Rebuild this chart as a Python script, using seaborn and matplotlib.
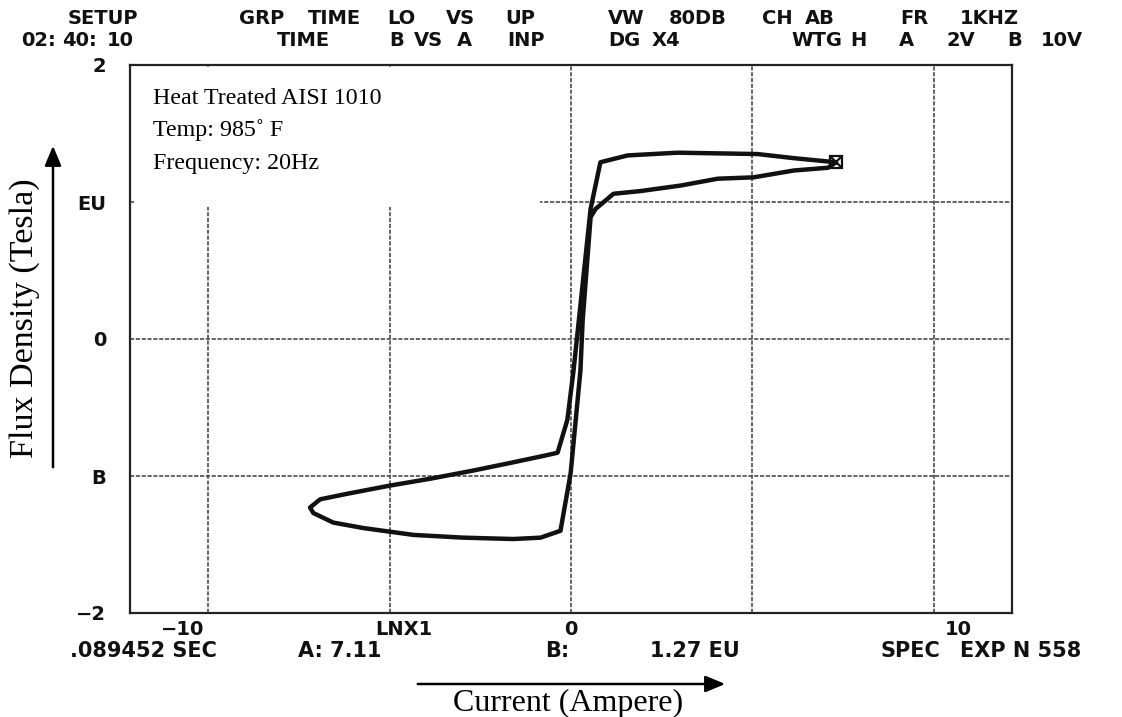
import numpy as np
import pandas as pd
import matplotlib
matplotlib.use("Agg")
import matplotlib.pyplot as plt
import seaborn as sns

# ---------------- data ----------------
# descending branch: from positive tip to negative tip
current_desc = [7.30, 6.14, 5.14, 2.94, 1.56, 0.81, 0.54, 0.07, -0.10, -0.37,
                -0.70, -1.59, -2.69, -3.88, -4.99, -6.17, -6.91, -7.19]
flux_desc = [1.29, 1.32, 1.35, 1.36, 1.34, 1.29, 0.95, -0.23, -0.59, -0.83,
             -0.85, -0.90, -0.96, -1.02, -1.07, -1.13, -1.17, -1.23]
# ascending branch: from negative tip back to positive tip
current_asc = [-7.19, -7.10, -6.55, -5.72, -4.34, -2.97, -1.59, -0.84, -0.29,
               -0.01, 0.26, 0.32, 0.54, 0.68, 1.17, 1.92, 3.02, 4.04, 5.03,
               6.14, 7.08, 7.30]
flux_asc = [-1.23, -1.27, -1.34, -1.38, -1.43, -1.45, -1.46, -1.45, -1.40,
            -0.98, -0.23, 0.13, 0.89, 0.95, 1.06, 1.08, 1.12, 1.17, 1.18,
            1.23, 1.25, 1.29]
cursor_a = [7.30]
cursor_b = [1.29]

y_ticks = [-2, -1, 0, 1, 2]
y_tick_labels = ["\u22122", "B", "0", "EU", "2"]
x_grid = [-10, -5, 0, 5, 10]
x_label_pos = [-10.7, -4.6, 0.0, 10.66]
x_label_txt = ["\u221210", "LNX1", "0", "10"]

header_row1 = [("SETUP", 68), ("GRP", 239), ("TIME", 308), ("LO", 387), ("VS", 446),
               ("UP", 505), ("VW", 608), ("80DB", 669), ("CH", 762), ("AB", 805),
               ("FR", 900), ("1KHZ", 960)]
header_row2 = [("02:", 21), ("40:", 62), ("10", 107), ("TIME", 277), ("B", 389),
               ("VS", 414), ("A", 457), ("INP", 507), ("DG", 608), ("X4", 652),
               ("WTG", 791), ("H", 850), ("A", 899), ("2V", 947), ("B", 1007),
               ("10V", 1041)]
footer_row = [(".089452 SEC", 70), ("A: 7.11", 298), ("B:", 545), ("1.27 EU", 650),
              ("SPEC", 880), ("EXP N 558", 960)]
note_lines = ["Heat Treated AISI 1010", "Temp: 985\u02da F", "Frequency: 20Hz"]

# ---------------- figure ----------------
W, H = 1122, 717
sns.set_theme(style="white")
plt.rcParams["font.family"] = ["DejaVu Sans"]
fig = plt.figure(figsize=(W / 100, H / 100), dpi=100)
fig.patch.set_facecolor("white")

def fx(px):
    return px / W

def fy(py):
    return 1 - py / H

ax = fig.add_axes([fx(130), fy(613), fx(1012) - fx(130), fy(65) - fy(613)])
ax.set_facecolor("white")

df = pd.DataFrame({
    "current": current_desc + current_asc,
    "flux": flux_desc + flux_asc,
})
sns.lineplot(data=df, x="current", y="flux", sort=False, estimator=None,
             color="#111111", linewidth=3.2, ax=ax, zorder=3)
ax.plot(cursor_a, cursor_b, marker="s", markersize=9, markerfacecolor="none",
        markeredgecolor="#111111", markeredgewidth=1.6, zorder=4)
ax.plot(cursor_a, cursor_b, marker="x", markersize=9, color="#111111",
        markeredgewidth=1.6, zorder=4)

ax.set_xlim(-12.15, 12.15)
ax.set_ylim(-2, 2)

# grid lines and tick labels
ax.xaxis.remove_overlapping_locs = False
ax.set_xticks(x_grid)
ax.set_xticklabels([])
ax.set_xticks(x_label_pos, minor=True)
ax.set_xticklabels(x_label_txt, minor=True)
ax.set_yticks(y_ticks)
ax.set_yticklabels(y_tick_labels)
ax.grid(True, which="major", color="#4a4a4a", linestyle=(0, (2.5, 1)), linewidth=1.2)
ax.tick_params(axis="x", which="major", length=0)
ax.tick_params(axis="x", which="minor", length=0, pad=5, labelsize=14)
ax.tick_params(axis="y", which="major", length=0, pad=17, labelsize=14)
for lab in ax.get_yticklabels() + ax.get_xticklabels(minor=True):
    lab.set_fontweight("bold")
    lab.set_color("#111111")
for s in ax.spines.values():
    s.set_visible(True)
    s.set_color("#222222")
    s.set_linewidth(1.6)
ax.set_xlabel("")
ax.set_ylabel("")

# white annotation box over the grid
ax.add_patch(plt.Rectangle((0.004, (0.96 + 2) / 4), (540 - 130) / 882 - 0.004, 1 - (0.96 + 2) / 4 - 0.004,
                           transform=ax.transAxes, facecolor="white", edgecolor="none", zorder=1.5))
for i, line in enumerate(note_lines):
    fig.text(fx(153), fy(98 + i * 32.5), line, family=["Liberation Serif", "DejaVu Serif"],
             fontsize=17.3, va="center", ha="left", color="black")

# header text
for txt, px in header_row1:
    fig.text(fx(px), fy(18), txt, fontsize=14, fontweight="bold", va="center", ha="left", color="#111111")
for txt, px in header_row2:
    fig.text(fx(px), fy(41), txt, fontsize=14, fontweight="bold", va="center", ha="left", color="#111111")
for txt, px in footer_row:
    fig.text(fx(px), fy(651), txt, fontsize=15, fontweight="bold", va="center", ha="left", color="#111111")

# axis titles with arrows
fig.text(fx(25), fy(318), "Flux Density (Tesla)", rotation=90, family=["Liberation Serif", "DejaVu Serif"],
         fontsize=24.5, va="center", ha="center", color="black")
fig.text(fx(568), fy(703), "Current (Ampere)", family=["Liberation Serif", "DejaVu Serif"],
         fontsize=23, va="center", ha="center", color="black")
fig.patches.append(matplotlib.patches.FancyArrowPatch(
    (fx(53), fy(470)), (fx(53), fy(143)), transform=fig.transFigure,
    arrowstyle="-|>,head_length=12,head_width=5", mutation_scale=1, color="black", linewidth=1.8))
fig.patches.append(matplotlib.patches.FancyArrowPatch(
    (fx(415), fy(684)), (fx(728), fy(684)), transform=fig.transFigure,
    arrowstyle="-|>,head_length=12,head_width=5", mutation_scale=1, color="black", linewidth=1.8))

fig.savefig("out.png", dpi=100, facecolor="white")
